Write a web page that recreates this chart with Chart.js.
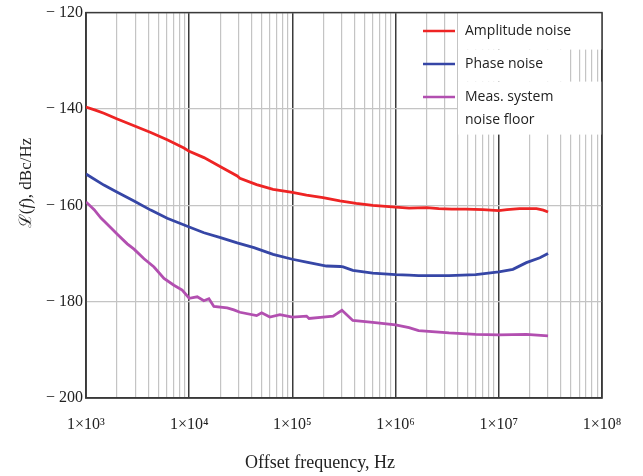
<!DOCTYPE html>
<html>
<head>
<meta charset="utf-8">
<script src="https://cdn.jsdelivr.net/npm/chart.js@4.4.1/dist/chart.umd.min.js"></script>
<style>
    html, body { margin: 0; padding: 0; background: #fff; }
</style>
</head>
<body>
<canvas id="noiseChart" width="643" height="476"></canvas>
<script>
(function () {
    "use strict";

    // Data (Hz, dBc/Hz)
    var amplitudeFreq = [1000, 1250, 1490, 2010, 2920, 4240, 6120, 8890, 10000, 13900, 20100, 29200, 31000, 45000, 65000, 100000, 137000, 198000, 288000, 415000, 600000, 1000000, 1350000, 2000000, 2620000, 3500000, 4790000, 7000000, 10000000, 12000000, 15900000, 23200000, 27000000, 30000000];
    var amplitudeNoise = [-139.6, -140.3, -140.9, -142.1, -143.5, -144.9, -146.4, -148.1, -148.8, -150.1, -152.0, -153.9, -154.4, -155.7, -156.7, -157.3, -157.9, -158.4, -159.1, -159.6, -160.0, -160.4, -160.6, -160.5, -160.7, -160.8, -160.8, -160.9, -161.1, -160.9, -160.7, -160.7, -161.0, -161.4];

    var phaseFreq = [1000, 1490, 2010, 2920, 4240, 6120, 10000, 13900, 20100, 29200, 42400, 65000, 100000, 137000, 214000, 290000, 310000, 385000, 600000, 1000000, 1350000, 1670000, 3290000, 5980000, 10000000, 13700000, 18500000, 25000000, 30000000];
    var phaseNoise = [-153.5, -155.8, -157.3, -159.1, -161.0, -162.7, -164.5, -165.7, -166.7, -167.8, -168.8, -170.2, -171.2, -171.8, -172.6, -172.7, -172.8, -173.5, -174.1, -174.4, -174.5, -174.6, -174.6, -174.4, -173.8, -173.3, -171.9, -170.9, -170.0];

    var floorFreq = [1000, 1200, 1390, 1730, 2010, 2510, 2920, 3650, 4560, 5700, 7110, 8550, 10000, 11970, 13870, 15520, 17340, 23330, 27100, 31000, 45000, 50350, 60500, 75700, 100000, 137000, 145000, 198000, 248000, 270000, 302000, 385000, 600000, 1000000, 1350000, 1670000, 3290000, 5980000, 10000000, 18500000, 30000000];
    var floorNoise = [-159.3, -160.9, -162.6, -164.6, -166.0, -168.0, -169.1, -171.1, -172.8, -175.2, -176.6, -177.6, -179.3, -179.0, -179.8, -179.4, -181.0, -181.3, -181.7, -182.2, -182.9, -182.3, -183.2, -182.7, -183.2, -183.0, -183.5, -183.2, -183.0, -182.5, -181.8, -183.9, -184.3, -184.8, -185.4, -186.0, -186.5, -186.8, -186.9, -186.8, -187.1];

    var decades = [1e3, 1e4, 1e5, 1e6, 1e7, 1e8];
    var yTicks = [-200, -180, -160, -140, -120];

    var seriesNames = ["Amplitude noise", "Phase noise", "Meas. system", "noise floor"];
    var colors = ["#ee2424", "#3646a6", "#b24fb0"];

    var supDigits = ["\u2070", "\u00b9", "\u00b2", "\u00b3", "\u2074", "\u2075", "\u2076", "\u2077", "\u2078", "\u2079"];

    function isDecade(v) {
        var l = Math.log10(v);
        return Math.abs(l - Math.round(l)) < 1e-6;
    }

    function toPoints(xs, ys) {
        return xs.map(function (x, i) { return { x: x, y: ys[i] }; });
    }

    // tick list: 1..9 per decade
    var xTickValues = [];
    decades.forEach(function (d, i) {
        if (i === decades.length - 1) {
            xTickValues.push(d);
            return;
        }
        for (var k = 1; k < 10; k++) xTickValues.push(k * d);
    });

    var serif = "'Liberation Serif', 'Times New Roman', serif";

    // Legend, frame and axis titles
    var decor = {
        id: "decor",
        beforeDatasetsDraw: function (chart) {
            var ctx = chart.ctx;
            var a = chart.chartArea;
            ctx.save();
            // legend backing hides part of the grid
            ctx.fillStyle = "#fff";
            ctx.fillRect(458, a.top, a.right - 458, 37);
            ctx.fillRect(458, a.top + 37, 112, 32);
            ctx.fillRect(458, a.top + 69, a.right - 458, 53);
            // frame
            ctx.strokeStyle = "#3a3a3a";
            ctx.lineWidth = 1.5;
            ctx.strokeRect(a.left, a.top, a.right - a.left, a.bottom - a.top);
            ctx.restore();
        },
        afterDatasetsDraw: function (chart) {
            var ctx = chart.ctx;
            ctx.save();
            var rows = [31, 64, 97];
            rows.forEach(function (y, i) {
                ctx.strokeStyle = colors[i];
                ctx.lineWidth = 2.5;
                ctx.beginPath();
                ctx.moveTo(423, y);
                ctx.lineTo(455, y);
                ctx.stroke();
            });
            ctx.fillStyle = "#222";
            ctx.font = "14px 'Open Sans', sans-serif";
            ctx.textBaseline = "middle";
            ctx.textAlign = "left";
            ctx.fillText(seriesNames[0], 465, 31);
            ctx.fillText(seriesNames[1], 465, 64);
            ctx.fillText(seriesNames[2], 465, 97);
            ctx.fillText(seriesNames[3], 465, 120);

            // axis titles
            ctx.font = "18px " + serif;
            ctx.textAlign = "center";
            ctx.textBaseline = "alphabetic";
            ctx.fillText("Offset frequency, Hz", 320, 468);

            // y title: script L, italic f
            ctx.translate(31, 183);
            ctx.rotate(-Math.PI / 2);
            var parts = [["17px " + serif, "\u2112("], ["italic 17px " + serif, "f"], ["17px " + serif, "), dBc/Hz"]];
            var total = 0;
            parts.forEach(function (p) { ctx.font = p[0]; total += ctx.measureText(p[1]).width; });
            var x = -total / 2;
            ctx.textAlign = "left";
            parts.forEach(function (p) {
                ctx.font = p[0];
                ctx.fillText(p[1], x, 0);
                x += ctx.measureText(p[1]).width;
            });
            ctx.restore();
        }
    };

    var ctx = document.getElementById("noiseChart").getContext("2d");
    var noiseChart = new Chart(ctx, {
        type: "line",
        data: {
            datasets: [{
                    label: seriesNames[0],
                    data: toPoints(amplitudeFreq, amplitudeNoise),
                    borderColor: colors[0]
                },
                {
                    label: seriesNames[1],
                    data: toPoints(phaseFreq, phaseNoise),
                    borderColor: colors[1]
                },
                {
                    label: seriesNames[2] + " " + seriesNames[3],
                    data: toPoints(floorFreq, floorNoise),
                    borderColor: colors[2]
                }
            ]
        },
        options: {
            responsive: false,
            animation: false,
            layout: { padding: { top: 11, right: 41, left: 0, bottom: 0 } },
            elements: {
                line: { borderWidth: 2.8, tension: 0 },
                point: { radius: 0 }
            },
            plugins: {
                legend: { display: false },
                tooltip: { enabled: false }
            },
            scales: {
                x: {
                    type: "logarithmic",
                    min: decades[0],
                    max: decades[decades.length - 1],
                    afterBuildTicks: function (scale) {
                        scale.ticks = xTickValues.map(function (v) { return { value: v }; });
                    },
                    afterFit: function (scale) { scale.height = 78; },
                    grid: {
                        drawTicks: false,
                        color: function (c) { return isDecade(c.tick.value) ? "#3a3a3a" : "#c4c4c4"; },
                        lineWidth: function (c) { return isDecade(c.tick.value) ? 1.5 : 1.2; }
                    },
                    border: { color: "#3a3a3a", width: 1.5 },
                    ticks: {
                        autoSkip: false,
                        maxRotation: 0,
                        padding: 17,
                        color: "#222",
                        font: { family: serif, size: 16 },
                        callback: function (v) {
                            if (!isDecade(v)) return "";
                            return "1\u00d710" + supDigits[Math.round(Math.log10(v))];
                        }
                    }
                },
                y: {
                    min: yTicks[0],
                    max: yTicks[yTicks.length - 1],
                    afterBuildTicks: function (scale) {
                        scale.ticks = yTicks.map(function (v) { return { value: v }; });
                    },
                    afterFit: function (scale) { scale.width = 86; },
                    grid: { drawTicks: false, color: "#c4c4c4", lineWidth: 1.2 },
                    border: { color: "#3a3a3a", width: 1.5 },
                    ticks: {
                        padding: 3,
                        color: "#222",
                        font: { family: serif, size: 16 },
                        callback: function (v) { return "\u2212 " + Math.abs(v); }
                    }
                }
            }
        },
        plugins: [decor]
    });
})();
</script>
</body>
</html>
